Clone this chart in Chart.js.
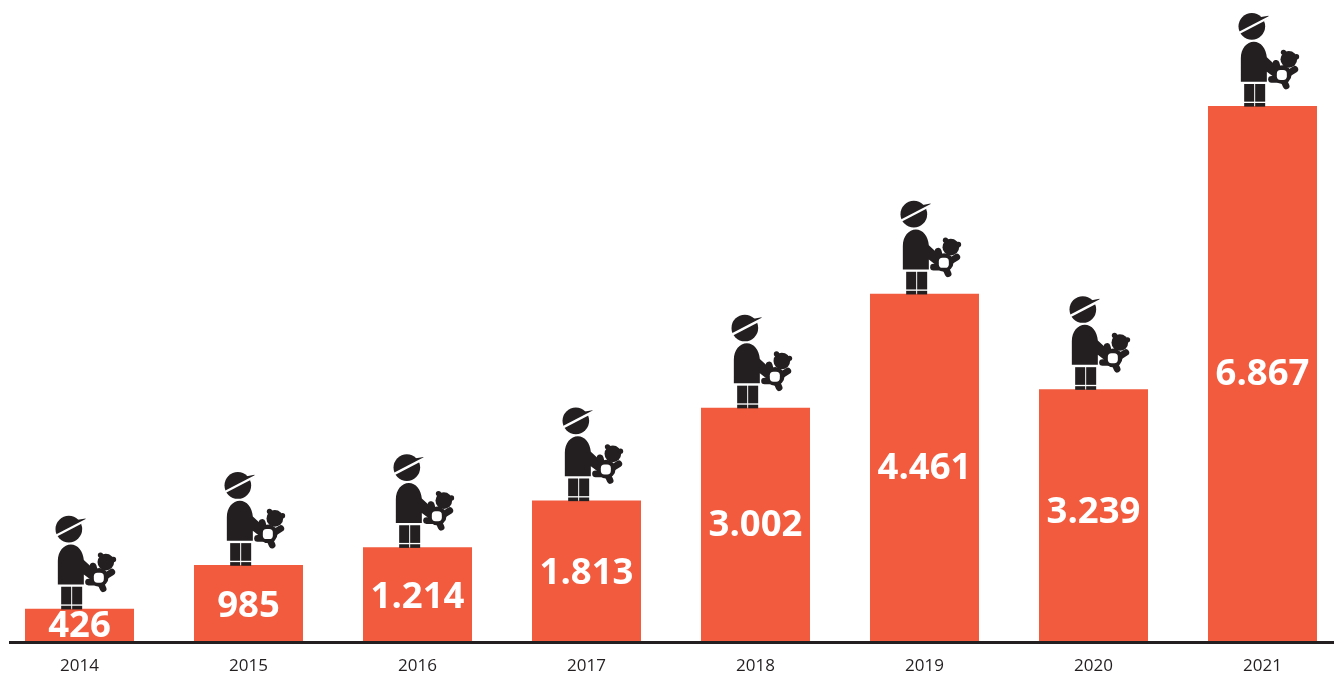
<!DOCTYPE html>
<html>
<head>
<meta charset="utf-8">
<style>
  html, body { margin: 0; padding: 0; background: #fff; overflow: hidden; }
  #wrap { position: relative; width: 1334px; height: 677px; overflow: hidden; }
  #chart { position: absolute; left: -5px; top: 0; }
</style>
<script src="https://cdn.jsdelivr.net/npm/chart.js@4/dist/chart.umd.min.js"></script>
</head>
<body>
<div id="wrap"><canvas id="chart" width="1352" height="677"></canvas></div>
<script>
const years = ['2014', '2015', '2016', '2017', '2018', '2019', '2020', '2021'];
const cases = [426, 985, 1214, 1813, 3002, 4461, 3239, 6867];
const valueLabels = ['426', '985', '1.214', '1.813', '3.002', '4.461', '3.239', '6.867'];

const BAR_COLOR = '#F25B3E';
const INK = '#231F20';
// Vertical fine-tuning of the in-bar numbers, in pixels.
const labelNudge = [0, 2, 2, 1, 0, 0, -4, 0];

// Child holding a teddy bear, drawn on a 3x grid with its feet on (187, 318).
function drawChild(ctx) {
  ctx.fillStyle = INK;
  ctx.strokeStyle = INK;
  // head
  ctx.beginPath(); ctx.arc(155, 79, 40, 0, Math.PI * 2); ctx.fill();
  // cap brim
  ctx.beginPath();
  ctx.moveTo(178, 52); ctx.lineTo(205, 47); ctx.lineTo(207, 53); ctx.lineTo(185, 66);
  ctx.closePath(); ctx.fill();
  // torso with the arm reaching toward the bear
  ctx.beginPath();
  ctx.moveTo(122, 245);
  ctx.lineTo(122, 175);
  ctx.bezierCurveTo(122, 145, 140, 125, 161, 125);
  ctx.bezierCurveTo(182, 125, 198, 145, 200, 172);
  ctx.lineTo(226, 196);
  ctx.lineTo(222, 232);
  ctx.lineTo(200, 215);
  ctx.lineTo(200, 245);
  ctx.closePath(); ctx.fill();
  // legs and feet
  ctx.fillRect(132, 252, 30, 53);
  ctx.fillRect(165, 252, 30, 53);
  ctx.fillRect(132, 309, 30, 11);
  ctx.fillRect(165, 309, 30, 11);
  // teddy head and ears
  ctx.beginPath(); ctx.arc(266, 178, 25, 0, Math.PI * 2); ctx.fill();
  ctx.beginPath(); ctx.arc(250, 157, 8, 0, Math.PI * 2); ctx.fill();
  ctx.beginPath(); ctx.arc(289, 170, 8, 0, Math.PI * 2); ctx.fill();
  // teddy body
  ctx.beginPath(); ctx.arc(246, 224, 28, 0, Math.PI * 2); ctx.fill();
  // teddy limbs
  ctx.lineCap = 'round';
  ctx.lineWidth = 20;
  ctx.beginPath(); ctx.moveTo(232, 205); ctx.lineTo(228, 190); ctx.stroke();
  ctx.beginPath(); ctx.moveTo(262, 222); ctx.lineTo(284, 208); ctx.stroke();
  ctx.beginPath(); ctx.moveTo(232, 238); ctx.lineTo(214, 238); ctx.stroke();
  ctx.beginPath(); ctx.moveTo(250, 240); ctx.lineTo(258, 258); ctx.stroke();
  // teddy belly
  ctx.fillStyle = '#fff';
  ctx.beginPath(); ctx.roundRect(230, 210, 30, 30, 11); ctx.fill();
  // white band between head and brim
  ctx.strokeStyle = '#fff';
  ctx.lineCap = 'butt';
  ctx.lineWidth = 7;
  ctx.beginPath(); ctx.moveTo(112, 101); ctx.lineTo(210, 50); ctx.stroke();
}

const barDecorations = {
  id: 'barDecorations',
  afterDatasetsDraw(chart) {
    const { ctx } = chart;
    const bars = chart.getDatasetMeta(0).data;
    const zeroY = chart.scales.y.getPixelForValue(0);

    // value inside each bar
    ctx.save();
    ctx.font = 'bold 36.5px "Open Sans"';
    ctx.fillStyle = '#fff';
    ctx.textAlign = 'center';
    ctx.textBaseline = 'middle';
    bars.forEach((bar, i) => {
      ctx.fillText(valueLabels[i], bar.x, (bar.y + zeroY) / 2 + 1 + labelNudge[i]);
    });
    ctx.restore();

    // figure standing on each bar
    bars.forEach(bar => {
      ctx.save();
      ctx.translate(bar.x, bar.y);
      ctx.scale(1 / 3, 1 / 3);
      ctx.translate(-187, -318);
      drawChild(ctx);
      ctx.restore();
    });

    // baseline
    ctx.save();
    ctx.strokeStyle = INK;
    ctx.lineWidth = 3;
    ctx.beginPath();
    ctx.moveTo(14, zeroY + 0.5);
    ctx.lineTo(chart.width, zeroY + 0.5);
    ctx.stroke();
    ctx.restore();
  }
};

new Chart(document.getElementById('chart'), {
  type: 'bar',
  data: {
    labels: years,
    datasets: [{
      data: cases,
      backgroundColor: BAR_COLOR,
      borderWidth: 0,
      barPercentage: 109 / 169,
      categoryPercentage: 1
    }]
  },
  plugins: [barDecorations],
  options: {
    responsive: false,
    animation: false,
    plugins: { legend: { display: false }, tooltip: { enabled: false } },
    scales: {
      x: {
        grid: { display: false },
        border: { display: false },
        afterFit(scale) { scale.height = 35; },
        ticks: {
          color: INK,
          padding: 6,
          maxRotation: 0,
          font: { family: '"Open Sans"', size: 17 }
        }
      },
      y: { display: false, min: 0, max: 8225 }
    }
  }
});
</script>
</body>
</html>
